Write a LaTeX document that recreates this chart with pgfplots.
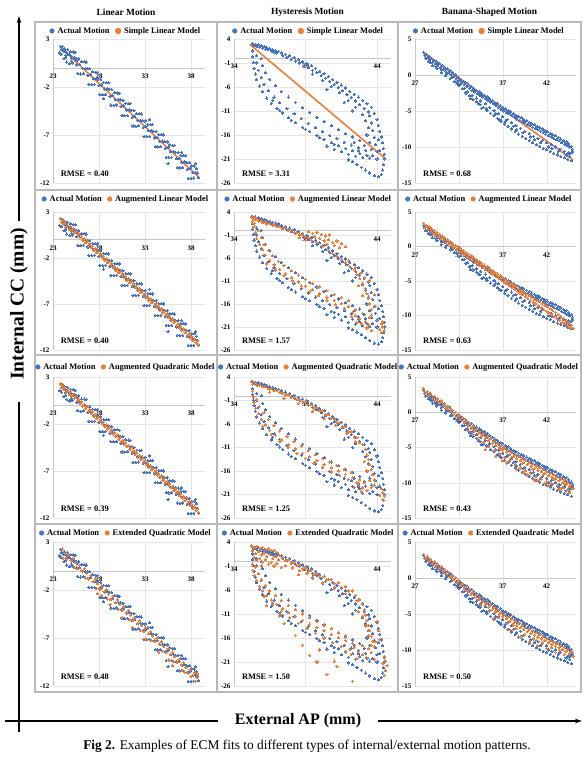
\documentclass[border=0pt]{standalone}
\usepackage{pgfplots}
\pgfplotsset{compat=1.18}
\usepackage{pgfplotstable}
\usepackage{fontspec}
\setmainfont{Liberation Serif}
\usetikzlibrary{arrows.meta}
\definecolor{bluec}{HTML}{4472C4}
\definecolor{orangec}{HTML}{ED7D31}
\newcommand{\tickfont}{\fontsize{7}{8}\selectfont\bfseries}
\newcommand{\legfont}{\fontsize{8.4}{9}\selectfont\bfseries}

% ---------- Linear motion: actual ----------
\pgfplotstableread[row sep=\\]{x y\\
23.8 2.25\\ 23.9 1.9\\ 23.7 1.55\\ 24.0 2.2\\ 24.1 1.9\\ 23.9 1.4\\ 24.3 1.95\\ 24.4 1.3\\ 24.2 0.95\\
24.6 1.9\\ 24.7 1.35\\ 24.5 0.6\\ 24.9 1.7\\ 25.0 1.0\\ 24.8 0.45\\ 25.2 1.65\\ 25.3 1.0\\ 25.1 0.5\\
25.5 1.0\\ 25.6 0.3\\ 25.4 1.6\\ 25.8 1.0\\ 25.9 0.35\\ 25.7 -0.6\\ 26.1 0.65\\ 26.2 -0.05\\ 26.0 -0.65\\
26.4 0.65\\ 26.5 -0.05\\ 26.3 -0.6\\ 26.7 -0.1\\ 26.8 -0.8\\ 26.6 0.6\\ 27.0 -0.1\\ 27.1 -0.7\\ 26.9 -1.7\\
27.3 -0.42\\ 27.4 -1.12\\ 27.2 -1.72\\ 27.6 -0.45\\ 27.7 -1.1\\ 27.5 -1.7\\ 27.9 -1.17\\ 28.0 -1.87\\ 27.8 -0.47\\
28.2 -1.19\\ 28.3 -1.79\\ 28.1 -2.79\\ 28.5 -1.51\\ 28.6 -2.21\\ 28.4 -2.81\\ 28.8 -1.54\\ 28.9 -2.19\\ 28.7 -2.79\\
29.1 -2.26\\ 29.2 -2.96\\ 29.0 -1.56\\ 29.4 -2.28\\ 29.5 -2.88\\ 29.3 -3.88\\ 29.7 -2.6\\ 29.8 -3.3\\ 29.6 -3.9\\
30.0 -2.62\\ 30.1 -3.27\\ 29.9 -3.87\\ 30.3 -3.35\\ 30.4 -4.05\\ 30.2 -2.65\\ 30.6 -3.37\\ 30.7 -3.97\\ 30.5 -4.97\\
30.9 -3.69\\ 31.0 -4.39\\ 30.8 -4.99\\ 31.2 -3.71\\ 31.3 -4.36\\ 31.1 -4.96\\ 31.5 -4.43\\ 31.6 -5.13\\ 31.4 -3.73\\
31.8 -4.46\\ 31.9 -5.06\\ 31.7 -6.06\\ 32.1 -4.78\\ 32.2 -5.48\\ 32.0 -6.08\\ 32.4 -4.8\\ 32.5 -5.45\\ 32.3 -6.05\\
32.7 -5.52\\ 32.8 -6.22\\ 32.6 -4.82\\ 33.0 -5.54\\ 33.1 -6.14\\ 32.9 -7.14\\ 33.3 -5.87\\ 33.4 -6.57\\ 33.2 -7.17\\
33.6 -5.89\\ 33.7 -6.54\\ 33.5 -7.14\\ 33.9 -6.61\\ 34.0 -7.31\\ 33.8 -5.91\\ 34.2 -6.63\\ 34.3 -7.23\\ 34.1 -8.23\\
34.5 -6.95\\ 34.6 -7.65\\ 34.4 -8.25\\ 34.8 -6.98\\ 34.9 -7.63\\ 34.7 -8.23\\ 35.1 -7.7\\ 35.2 -8.4\\ 35.0 -7.0\\
35.4 -7.72\\ 35.5 -8.32\\ 35.3 -9.32\\ 35.7 -8.04\\ 35.8 -8.74\\ 35.6 -9.34\\ 36.0 -8.06\\ 36.1 -8.71\\ 35.9 -9.31\\
36.3 -8.79\\ 36.4 -9.49\\ 36.2 -8.09\\ 36.6 -8.81\\ 36.7 -9.41\\ 36.5 -10.41\\ 36.9 -9.13\\ 37.0 -9.83\\ 36.8 -10.43\\
37.2 -9.15\\ 37.3 -9.8\\ 37.1 -10.4\\ 37.5 -9.87\\ 37.6 -10.57\\ 37.4 -9.17\\ 37.8 -9.9\\ 37.9 -10.5\\ 37.7 -11.5\\
38.1 -10.22\\ 38.2 -10.92\\ 38.0 -11.52\\ 38.4 -10.24\\ 38.5 -10.89\\ 38.3 -11.49\\ 38.7 -10.96\\ 38.8 -11.46\\ 38.6 -10.5\\
38.5 -10.0\\ 37.0 -8.8\\ 33.5 -5.4\\ 35.5 -10.0\\ 28.5 -3.2\\ 24.2 1.7\\ 24.5 1.6\\ 24.8 1.35\\ 25.0 1.2\\ 25.3 1.1\\
25.6 0.8\\ 24.4 1.05\\ 25.0 0.7\\
}\actA

% ---------- Linear motion: augmented models (narrow band) ----------
\pgfplotstableread[row sep=\\]{x y\\
23.8 2.3\\ 23.95 1.86\\ 24.0 2.12\\ 24.15 1.68\\ 24.3 1.84\\ 24.45 1.4\\ 24.6 1.57\\ 24.75 1.13\\
24.9 1.45\\ 25.05 1.01\\ 25.2 1.18\\ 25.35 0.74\\ 25.5 0.91\\ 25.65 0.47\\ 25.8 0.64\\ 25.95 0.20\\
26.1 0.36\\ 26.25 -0.08\\ 26.4 0.09\\ 26.55 -0.35\\ 26.7 -0.18\\ 26.85 -0.62\\ 27.0 -0.45\\ 27.15 -0.89\\
27.3 -0.72\\ 27.45 -1.16\\ 27.6 -1.00\\ 27.75 -1.44\\ 27.9 -1.27\\ 28.05 -1.71\\ 28.2 -1.54\\ 28.35 -1.98\\
28.5 -1.81\\ 28.65 -2.25\\ 28.8 -2.09\\ 28.95 -2.53\\ 29.1 -2.36\\ 29.25 -2.80\\ 29.4 -2.63\\ 29.55 -3.07\\
29.7 -2.90\\ 29.85 -3.34\\ 30.0 -3.17\\ 30.15 -3.61\\ 30.3 -3.45\\ 30.45 -3.89\\ 30.6 -3.72\\ 30.75 -4.16\\
30.9 -3.99\\ 31.05 -4.43\\ 31.2 -4.26\\ 31.35 -4.70\\ 31.5 -4.53\\ 31.65 -4.97\\ 31.8 -4.81\\ 31.95 -5.25\\
32.1 -5.08\\ 32.25 -5.52\\ 32.4 -5.35\\ 32.55 -5.79\\ 32.7 -5.62\\ 32.85 -6.06\\ 33.0 -5.89\\ 33.15 -6.33\\
33.3 -6.17\\ 33.45 -6.61\\ 33.6 -6.44\\ 33.75 -6.88\\ 33.9 -6.71\\ 34.05 -7.15\\ 34.2 -6.98\\ 34.35 -7.42\\
34.5 -7.25\\ 34.65 -7.69\\ 34.8 -7.53\\ 34.95 -7.97\\ 35.1 -7.80\\ 35.25 -8.24\\ 35.4 -8.07\\ 35.55 -8.51\\
35.7 -8.34\\ 35.85 -8.78\\ 36.0 -8.61\\ 36.15 -9.05\\ 36.3 -8.89\\ 36.45 -9.33\\ 36.6 -9.16\\ 36.75 -9.60\\
36.9 -9.43\\ 37.05 -9.87\\ 37.2 -9.70\\ 37.35 -10.14\\ 37.5 -9.97\\ 37.65 -10.41\\ 37.8 -10.25\\ 37.95 -10.69\\
38.1 -10.52\\ 38.25 -10.96\\ 38.4 -10.79\\ 38.55 -11.23\\ 38.7 -11.06\\ 38.8 -11.40\\
}\modAaug

% ---------- Linear motion: extended quadratic ----------
\pgfplotstableread[row sep=\\]{x y\\
24.0 2.27\\ 24.25 1.82\\ 24.1 1.32\\ 24.7 1.67\\ 24.95 1.07\\ 24.5 1.32\\ 25.2 1.33\\ 25.45 0.83\\ 25.3 0.33\\
25.9 0.59\\ 26.15 -0.01\\ 25.7 0.24\\ 26.4 0.24\\ 26.65 -0.26\\ 26.5 -0.76\\ 27.1 -0.50\\ 27.35 -1.10\\ 26.9 -0.85\\
27.6 -0.85\\ 27.85 -1.35\\ 27.7 -1.85\\ 28.3 -1.59\\ 28.55 -2.19\\ 28.1 -1.94\\ 28.8 -1.94\\ 29.05 -2.44\\ 28.9 -2.94\\
29.5 -2.68\\ 29.75 -3.28\\ 29.3 -3.03\\ 30.0 -3.02\\ 30.25 -3.52\\ 30.1 -4.02\\ 30.7 -3.77\\ 30.95 -4.37\\ 30.5 -4.12\\
31.2 -4.11\\ 31.45 -4.61\\ 31.3 -5.11\\ 31.9 -4.86\\ 32.15 -5.46\\ 31.7 -5.21\\ 32.4 -5.20\\ 32.65 -5.70\\ 32.5 -6.20\\
33.1 -5.94\\ 33.35 -6.54\\ 32.9 -6.29\\ 33.6 -6.29\\ 33.85 -6.79\\ 33.7 -7.29\\ 34.3 -7.03\\ 34.55 -7.63\\ 34.1 -7.38\\
34.8 -7.38\\ 35.05 -7.88\\ 34.9 -8.38\\ 35.5 -8.12\\ 35.75 -8.72\\ 35.3 -8.47\\ 36.0 -8.46\\ 36.25 -8.96\\ 36.1 -9.46\\
36.7 -9.21\\ 36.95 -9.81\\ 36.5 -9.56\\ 37.2 -9.55\\ 37.45 -10.05\\ 37.3 -10.55\\ 37.9 -10.30\\ 38.15 -10.90\\ 37.7 -10.65\\
38.4 -10.64\\ 38.65 -11.14\\ 38.5 -11.5\\ 27.8 -2.4\\ 28.3 -2.6\\ 30.5 -4.9\\ 33.0 -7.1\\ 34.5 -8.5\\ 36.0 -9.9\\
38.0 -11.0\\ 38.7 -10.7\\ 29.2 -3.5\\ 31.6 -5.9\\ 35.6 -9.3\\ 37.0 -10.4\\
}\modAext

% ---------- Hysteresis motion: actual ----------
\pgfplotstableread[row sep=\\]{x y\\
35.3 3.0\\ 35.4 2.7\\ 35.5 2.9\\ 35.6 2.5\\ 35.7 2.8\\ 35.8 2.3\\ 35.9 2.6\\ 36.0 2.1\\ 36.1 2.4\\ 36.2 1.9\\
36.3 2.2\\ 36.4 1.8\\ 36.5 2.0\\ 36.6 1.5\\ 36.7 1.8\\ 36.8 1.3\\ 36.9 1.6\\ 37.0 1.1\\ 37.1 1.4\\
37.3 1.1\\ 37.4 0.6\\ 37.6 0.8\\ 37.7 0.2\\ 37.9 0.5\\ 38.0 -0.2\\ 38.2 0.1\\ 38.3 -0.6\\ 38.5 -0.3\\ 38.6 -1.0\\
38.8 -0.7\\ 38.9 -1.5\\ 39.1 -1.1\\ 39.2 -2.0\\ 39.4 -1.6\\ 39.5 -2.5\\ 39.7 -2.1\\ 39.8 -3.0\\ 40.0 -2.7\\ 40.1 -3.6\\
40.3 -3.2\\ 40.4 -4.2\\ 40.6 -3.8\\ 40.7 -4.8\\ 40.9 -4.4\\ 41.0 -5.5\\ 41.2 -5.0\\ 41.3 -6.1\\ 41.5 -5.6\\ 41.6 -6.8\\
41.8 -6.2\\ 41.9 -7.5\\ 42.1 -6.9\\ 42.2 -8.2\\ 42.4 -7.5\\ 42.5 -8.9\\ 42.7 -8.1\\ 42.8 -9.7\\ 43.0 -8.8\\ 43.1 -10.4\\
43.3 -9.5\\ 43.4 -11.2\\
39.5 -3.3\\ 40.2 -4.6\\ 40.8 -5.9\\ 41.4 -7.2\\ 42.0 -8.8\\ 42.5 -10.2\\ 43.0 -11.8\\ 43.2 -13.0\\ 41.7 -9.2\\ 42.3 -11.0\\ 40.5 -6.5\\
43.6 -10.2\\ 43.8 -11.5\\ 44.0 -12.8\\ 44.1 -14.0\\ 44.2 -15.2\\ 44.3 -16.4\\ 44.4 -17.6\\ 44.45 -18.8\\ 44.5 -20.0\\ 44.5 -21.0\\
44.45 -22.2\\ 44.4 -23.3\\ 44.3 -24.2\\ 44.1 -24.7\\ 43.8 -24.5\\ 43.5 -23.9\\ 43.2 -23.3\\ 42.9 -22.7\\ 42.6 -22.1\\ 42.3 -21.6\\ 42.0 -21.2\\
43.5 -12.0\\ 43.6 -13.5\\ 43.7 -15.0\\ 43.8 -16.5\\ 43.9 -18.0\\ 44.0 -19.5\\ 43.7 -20.3\\ 43.4 -14.5\\ 43.3 -16.0\\ 43.5 -17.5\\
43.6 -19.0\\ 44.1 -17.0\\ 44.2 -19.2\\ 44.0 -21.0\\
35.3 1.5\\ 35.3 0.3\\ 35.35 -0.9\\ 35.4 -2.1\\ 35.5 -3.3\\ 35.6 -4.5\\ 35.8 -5.8\\ 36.0 -7.0\\ 36.3 -8.3\\ 36.6 -9.4\\
37.0 -10.4\\ 37.4 -11.4\\ 37.8 -12.4\\ 38.3 -13.4\\ 38.8 -14.4\\ 39.3 -15.3\\ 39.8 -16.1\\ 40.3 -16.9\\ 40.8 -17.6\\ 41.3 -18.2\\
41.8 -18.8\\ 42.3 -19.3\\ 42.8 -19.8\\ 43.3 -20.2\\
35.6 0.5\\ 35.6 -1.0\\ 35.7 -2.5\\ 35.9 -4.0\\ 36.1 -5.4\\ 36.4 -6.8\\ 36.8 -8.1\\ 37.2 -9.3\\ 37.7 -10.5\\ 38.2 -11.6\\
38.7 -12.6\\ 39.2 -13.6\\ 39.7 -14.5\\ 40.2 -15.3\\ 40.7 -16.1\\ 41.2 -16.8\\ 41.7 -17.5\\ 42.2 -18.1\\ 42.7 -18.7\\ 43.2 -19.2\\
35.9 0.0\\ 36.0 -1.6\\ 36.2 -3.0\\ 36.5 -4.4\\ 36.9 -5.7\\ 37.3 -6.9\\ 37.8 -8.1\\ 38.3 -9.2\\ 38.8 -10.3\\ 39.3 -11.3\\
39.8 -12.3\\ 40.3 -13.2\\ 40.8 -14.1\\ 41.3 -14.9\\ 41.8 -15.7\\ 42.3 -16.4\\ 42.8 -17.1\\
41.5 -19.5\\ 42.0 -20.0\\ 42.5 -20.4\\ 43.0 -20.7\\ 43.5 -20.8\\ 41.0 -19.0\\ 40.5 -18.3\\ 42.7 -19.3\\ 43.1 -18.2\\ 42.4 -17.5\\
38.0 -12.9\\ 39.0 -14.8\\ 40.0 -16.6\\ 41.0 -17.9\\ 37.2 -10.9\\ 36.7 -8.8\\
}\actB

% ---------- Hysteresis: augmented linear ----------
\pgfplotstableread[row sep=\\]{x y\\
35.2 3.0\\ 35.3 2.6\\ 35.4 2.8\\ 35.5 2.3\\ 35.6 2.6\\ 35.3 2.0\\ 35.4 1.5\\ 35.7 2.0\\ 35.9 2.2\\ 36.0 1.7\\
36.2 1.9\\ 36.3 1.4\\ 36.5 1.5\\ 36.7 1.1\\ 36.8 1.3\\ 37.0 0.8\\ 37.2 0.9\\ 37.4 0.4\\ 37.6 0.5\\ 37.8 0.0\\
38.0 0.0\\ 38.2 -0.5\\ 38.4 -0.5\\ 38.6 -1.0\\ 38.8 -1.0\\ 39.0 -1.5\\ 39.2 -1.6\\ 39.4 -2.1\\ 39.0 -2.1\\ 38.6 -1.6\\
39.2 -0.3\\ 39.5 -0.6\\ 39.8 -0.4\\ 40.1 -0.9\\ 40.4 -1.2\\ 40.7 -1.0\\ 39.6 -1.4\\ 40.0 -1.8\\ 40.3 -2.3\\ 40.6 -2.0\\
40.9 -2.6\\ 41.2 -2.3\\ 41.5 -2.9\\ 41.0 -3.3\\ 40.5 -3.0\\ 41.4 -3.8\\ 41.8 -3.5\\ 39.8 -2.6\\ 40.2 -3.4\\
40.6 -4.3\\ 40.9 -5.0\\ 41.2 -5.6\\ 41.5 -6.3\\ 41.8 -7.0\\ 42.1 -7.8\\ 42.4 -8.6\\ 42.6 -9.5\\ 42.8 -10.5\\ 43.0 -11.5\\
43.2 -12.6\\ 43.3 -13.7\\ 43.4 -14.8\\ 43.5 -16.0\\ 43.6 -17.2\\ 43.6 -18.4\\ 42.5 -8.0\\ 42.0 -6.5\\ 42.9 -9.2\\ 43.1 -10.3\\
43.5 -11.0\\ 43.8 -14.0\\ 43.9 -16.5\\ 42.7 -12.0\\ 43.0 -14.2\\
35.4 0.8\\ 35.5 -0.5\\ 35.6 -1.8\\ 35.8 -3.0\\ 36.0 -4.2\\ 36.2 -5.4\\ 36.5 -6.5\\ 36.8 -7.5\\ 37.2 -8.5\\ 37.6 -9.4\\
38.0 -10.3\\ 38.5 -11.2\\ 39.0 -12.1\\ 39.5 -12.9\\ 40.0 -13.7\\ 40.5 -14.5\\ 41.0 -15.2\\ 41.5 -15.9\\ 42.0 -16.6\\ 42.5 -17.3\\
35.7 0.0\\ 35.9 -1.5\\ 36.1 -3.0\\ 36.4 -4.3\\ 36.7 -5.5\\ 37.1 -6.7\\ 37.5 -7.7\\ 38.0 -8.8\\ 38.5 -9.7\\ 39.0 -10.6\\
39.5 -11.5\\ 40.0 -12.3\\ 40.5 -13.1\\ 41.0 -13.9\\ 41.5 -14.6\\ 42.0 -15.3\\
36.3 -7.3\\ 36.9 -8.6\\ 37.5 -9.8\\ 38.1 -11.0\\ 38.7 -12.1\\ 39.3 -13.2\\ 39.9 -14.2\\ 40.5 -15.2\\ 41.1 -16.1\\ 41.7 -17.0\\ 42.3 -17.8\\
42.5 -18.5\\ 42.8 -19.2\\ 43.0 -18.0\\ 43.2 -19.8\\ 43.4 -20.5\\ 42.9 -20.3\\ 43.5 -19.0\\ 42.2 -18.8\\ 42.6 -20.0\\ 43.3 -21.2\\ 43.6 -21.8\\
44.3 -20.3\\ 44.4 -21.0\\ 44.5 -21.7\\ 44.3 -22.2\\ 44.2 -21.5\\ 44.4 -19.8\\
}\modBlin

% ---------- Hysteresis: augmented quadratic ----------
\pgfplotstableread[row sep=\\]{x y\\
35.2 3.0\\ 35.3 2.5\\ 35.5 2.7\\ 35.6 2.2\\ 35.8 2.4\\ 36.0 1.9\\ 36.2 2.0\\ 36.4 1.5\\ 36.6 1.6\\ 36.8 1.1\\
37.0 1.2\\ 37.2 0.7\\ 37.4 0.7\\ 37.6 0.2\\ 37.8 0.2\\ 38.0 -0.3\\ 38.2 -0.3\\ 38.4 -0.8\\ 38.6 -0.8\\ 38.8 -1.4\\
39.0 -1.3\\ 39.2 -2.0\\ 39.4 -1.9\\ 39.6 -2.6\\ 39.8 -2.5\\ 40.0 -3.2\\ 40.2 -3.2\\ 40.4 -4.0\\ 40.6 -4.0\\ 40.8 -4.8\\
41.0 -4.8\\ 41.2 -5.7\\ 41.4 -5.7\\ 41.6 -6.6\\ 41.8 -6.6\\ 42.0 -7.6\\ 42.2 -7.7\\ 42.4 -8.7\\ 42.6 -8.9\\ 42.8 -10.0\\
43.0 -10.3\\ 43.2 -11.4\\ 43.3 -12.6\\ 39.5 -3.4\\ 40.3 -4.8\\ 41.1 -6.3\\ 41.9 -8.0\\ 42.5 -9.8\\ 38.5 -1.6\\ 37.5 -0.5\\ 36.5 0.8\\
43.4 -13.5\\ 43.5 -14.6\\ 43.6 -15.7\\ 43.7 -16.8\\ 43.8 -17.9\\ 43.8 -19.0\\ 43.1 -14.0\\ 43.3 -16.0\\ 43.5 -18.0\\ 43.6 -19.5\\
35.3 1.0\\ 35.35 -0.2\\ 35.4 -1.4\\ 35.5 -2.6\\ 35.7 -3.8\\ 35.9 -5.0\\ 36.2 -6.2\\ 36.5 -7.3\\ 36.9 -8.4\\ 37.3 -9.4\\
37.8 -10.4\\ 38.3 -11.3\\ 38.8 -12.2\\ 39.3 -13.0\\ 39.8 -13.8\\ 40.3 -14.6\\ 40.8 -15.3\\ 41.3 -16.0\\ 41.8 -16.7\\ 42.3 -17.3\\ 42.8 -17.9\\
35.6 -0.8\\ 35.8 -2.2\\ 36.1 -3.6\\ 36.4 -5.0\\ 36.8 -6.3\\ 37.2 -7.5\\ 37.7 -8.6\\ 38.2 -9.7\\ 38.7 -10.7\\ 39.2 -11.6\\
39.7 -12.5\\ 40.2 -13.3\\ 40.7 -14.1\\ 41.2 -14.9\\ 41.7 -15.6\\ 42.2 -16.3\\
36.0 -6.5\\ 36.6 -8.2\\ 37.2 -9.7\\ 37.8 -11.0\\ 38.4 -12.2\\ 39.0 -13.3\\ 39.6 -14.3\\ 40.2 -15.3\\ 40.8 -16.2\\ 41.4 -17.0\\ 42.0 -17.8\\ 42.6 -18.5\\
42.7 -19.0\\ 43.0 -19.6\\ 43.3 -20.1\\ 42.4 -19.5\\ 43.1 -18.5\\ 42.9 -20.4\\
44.3 -19.8\\ 44.4 -20.6\\ 44.5 -21.3\\ 44.4 -22.0\\ 44.2 -21.2\\
}\modBquad

% ---------- Hysteresis: extended quadratic ----------
\pgfplotstableread[row sep=\\]{x y\\
35.2 3.2\\ 35.4 2.9\\ 35.6 3.1\\ 35.8 2.7\\ 36.0 2.9\\ 36.2 2.5\\ 36.4 2.6\\ 36.6 2.2\\ 36.8 2.3\\ 37.0 1.8\\
35.3 2.2\\ 35.5 1.6\\ 35.7 2.0\\ 35.9 1.3\\ 36.1 1.7\\ 36.3 1.0\\ 36.5 1.4\\ 36.7 0.6\\ 36.9 1.0\\ 37.1 0.3\\
35.4 0.8\\ 35.6 0.2\\ 35.8 0.6\\ 36.0 -0.2\\ 36.2 0.3\\ 36.4 -0.6\\ 36.6 -0.2\\ 36.8 -1.0\\ 37.0 -0.5\\ 37.2 1.2\\
35.3 -0.6\\ 35.5 -1.2\\ 35.9 -1.0\\ 37.3 -1.3\\
37.4 0.7\\ 37.6 0.1\\ 37.8 0.3\\ 38.0 -0.4\\ 38.2 -0.2\\ 38.4 -0.9\\ 38.6 -0.7\\ 38.8 -1.5\\ 39.0 -1.3\\ 39.2 -2.1\\
37.6 -0.9\\ 38.1 -1.4\\ 38.6 -2.0\\ 39.1 -2.6\\ 39.4 -1.9\\ 39.6 -2.7\\ 39.8 -2.5\\ 40.0 -3.3\\ 40.3 -3.1\\ 40.5 -3.9\\
40.8 -3.8\\ 41.0 -4.6\\ 41.3 -4.5\\ 41.5 -5.4\\ 41.8 -5.3\\ 42.0 -6.2\\ 42.3 -6.2\\ 42.5 -7.1\\ 40.2 -4.4\\ 41.0 -5.6\\
41.8 -6.8\\ 42.6 -8.2\\ 39.5 -3.6\\ 38.5 -2.8\\
42.8 -8.0\\ 43.0 -9.0\\ 43.1 -10.1\\ 43.2 -11.2\\ 43.3 -12.3\\ 43.4 -13.4\\ 43.5 -14.5\\ 43.6 -15.6\\ 43.7 -16.7\\ 43.8 -17.8\\
43.0 -11.5\\ 43.2 -13.5\\ 43.4 -15.5\\ 43.6 -17.5\\ 44.0 -12.5\\ 44.1 -14.5\\ 44.2 -16.3\\ 42.7 -10.5\\
35.3 -1.9\\ 35.4 -3.0\\ 35.6 -4.1\\ 35.8 -5.2\\ 36.0 -6.2\\ 36.3 -7.2\\ 36.6 -8.1\\ 37.0 -9.0\\ 37.4 -9.9\\ 37.8 -10.7\\
38.3 -11.5\\ 38.8 -12.3\\ 39.3 -13.1\\ 39.8 -13.8\\ 40.3 -14.5\\ 40.8 -15.2\\ 41.3 -15.9\\ 41.8 -16.5\\ 42.3 -17.1\\
35.7 -2.6\\ 35.9 -3.9\\ 36.2 -5.1\\ 36.5 -6.2\\ 36.9 -7.2\\ 37.3 -8.2\\ 37.8 -9.2\\ 38.3 -10.1\\ 38.8 -11.0\\ 39.3 -11.8\\
39.8 -12.6\\ 40.3 -13.4\\ 40.8 -14.1\\ 41.3 -14.8\\ 41.8 -15.5\\
36.1 -7.4\\ 36.7 -9.0\\ 37.3 -10.4\\ 37.9 -11.7\\ 38.5 -12.9\\ 39.1 -14.0\\ 39.7 -15.0\\ 40.3 -16.0\\ 40.9 -16.9\\ 41.5 -17.7\\ 42.1 -18.4\\
42.4 -18.0\\ 42.7 -18.8\\ 43.0 -19.5\\ 43.3 -20.1\\ 42.6 -20.2\\ 43.0 -17.6\\ 43.6 -19.0\\ 43.8 -20.5\\ 42.2 -19.4\\ 43.4 -18.2\\ 41.8 -19.0\\ 43.9 -16.8\\
44.5 -19.8\\ 44.6 -20.8\\ 44.7 -21.8\\ 44.6 -22.8\\ 44.5 -23.8\\ 44.4 -21.3\\
36.3 -9.3\\ 37.2 -11.4\\ 38.3 -15.4\\ 38.8 -17.5\\ 40.5 -23.6\\ 42.3 -25.0\\ 39.3 -19.6\\ 37.5 -13.0\\ 39.8 -21.0\\ 41.2 -22.0\\ 40.0 -18.5\\ 41.0 -20.8\\
}\modBext

% ---------- Banana-shaped motion: actual ----------
\pgfplotstableread[row sep=\\]{x y\\
28.0 3.1\\ 28.1 2.7\\ 28.3 2.85\\ 28.4 2.4\\ 28.2 2.3\\ 28.6 2.6\\ 28.7 2.1\\ 28.9 2.3\\ 29.0 1.8\\ 28.8 1.7\\
29.2 2.05\\ 29.3 1.55\\ 29.5 1.8\\ 29.6 1.3\\ 29.4 1.2\\ 29.8 1.55\\ 29.9 1.05\\ 30.1 1.3\\ 30.2 0.8\\ 30.0 0.7\\
30.4 1.05\\ 30.5 0.55\\ 30.7 0.85\\ 30.8 0.3\\ 30.6 0.2\\ 31.0 0.6\\ 31.1 0.05\\ 31.3 0.3\\ 31.4 -0.25\\ 31.2 -0.4\\
31.6 0.0\\ 31.7 -0.5\\ 31.9 -0.3\\ 32.0 -0.8\\ 31.8 -1.0\\ 32.2 -0.6\\ 32.3 -1.1\\ 32.5 -0.85\\ 32.6 -1.35\\
32.8 -1.1\\ 32.9 -1.6\\ 33.1 -1.4\\ 33.2 -1.85\\ 33.4 -1.6\\ 33.5 -2.1\\ 33.7 -1.85\\ 33.8 -2.35\\ 34.0 -2.1\\ 34.1 -2.6\\
34.3 -2.35\\ 34.4 -2.8\\ 34.6 -2.6\\ 34.7 -3.05\\ 34.9 -2.8\\ 35.0 -3.3\\ 35.2 -3.05\\ 35.3 -3.5\\ 35.5 -3.3\\ 35.6 -3.75\\
35.8 -3.55\\ 35.9 -4.0\\ 36.1 -3.8\\ 36.2 -4.25\\ 36.4 -4.0\\ 36.5 -4.5\\ 36.7 -4.25\\ 36.8 -4.75\\ 37.0 -4.5\\ 37.1 -5.0\\
37.3 -4.7\\ 37.4 -5.2\\ 37.6 -4.9\\ 37.7 -5.4\\ 37.9 -5.1\\ 38.0 -5.6\\ 38.2 -5.4\\ 38.3 -5.85\\ 38.5 -5.6\\ 38.6 -6.1\\
38.8 -5.8\\ 38.9 -6.3\\ 39.1 -5.95\\ 39.2 -6.45\\ 39.4 -6.15\\ 39.5 -6.65\\ 39.7 -6.35\\ 39.8 -6.85\\ 40.0 -6.55\\ 40.1 -7.05\\
40.3 -6.75\\ 40.4 -7.25\\ 40.6 -6.9\\ 40.7 -7.4\\ 40.9 -7.1\\ 41.0 -7.6\\ 41.2 -7.3\\ 41.3 -7.8\\ 41.5 -7.5\\ 41.6 -8.0\\
41.8 -7.7\\ 41.9 -8.2\\ 42.1 -7.9\\ 42.2 -8.4\\ 42.4 -8.1\\ 42.5 -8.6\\ 42.7 -8.3\\ 42.8 -8.8\\ 43.0 -8.45\\ 43.1 -8.95\\
43.3 -8.65\\ 43.4 -9.15\\ 43.6 -8.9\\ 43.7 -9.4\\ 43.9 -9.1\\ 44.0 -9.6\\ 44.2 -9.3\\ 44.3 -9.8\\ 44.5 -9.55\\ 44.6 -10.0\\
44.8 -9.9\\ 44.9 -10.3\\ 44.95 -10.6\\ 44.8 -10.8\\ 44.6 -10.9\\
32.0 -1.4\\ 32.4 -1.9\\ 32.8 -2.5\\ 33.2 -2.9\\ 33.6 -3.4\\ 34.0 -3.7\\ 34.4 -4.1\\ 34.8 -4.5\\ 35.2 -4.9\\ 35.6 -5.3\\
36.0 -5.6\\ 36.4 -6.0\\ 36.8 -6.4\\ 37.2 -6.8\\ 37.6 -7.1\\ 38.0 -7.5\\ 38.4 -7.8\\ 38.8 -8.2\\ 39.2 -8.5\\ 39.6 -8.8\\
40.0 -9.1\\ 40.4 -9.4\\ 40.8 -9.7\\ 41.2 -9.9\\ 41.6 -10.2\\ 42.0 -10.4\\ 42.4 -10.6\\ 42.8 -10.9\\ 43.2 -11.1\\ 43.6 -11.3\\
44.0 -11.5\\ 44.4 -11.7\\ 44.8 -11.9\\
32.6 -1.9\\ 33.0 -2.3\\ 33.5 -2.8\\ 34.0 -3.2\\ 34.5 -3.6\\ 35.0 -4.0\\ 35.5 -4.5\\ 36.0 -4.9\\ 36.5 -5.4\\ 37.0 -5.8\\
37.5 -6.2\\ 38.0 -6.6\\ 38.5 -7.0\\ 39.0 -7.4\\ 39.5 -7.8\\ 40.0 -8.1\\ 40.5 -8.5\\ 41.0 -8.8\\ 41.5 -9.1\\ 42.0 -9.4\\
42.5 -9.7\\ 43.0 -10.0\\ 43.5 -10.3\\ 44.0 -10.6\\ 44.5 -10.8\\
33.3 -3.3\\ 34.2 -4.0\\ 35.1 -4.7\\ 36.2 -5.3\\ 37.3 -6.4\\ 38.2 -7.1\\ 39.3 -8.0\\ 40.2 -8.6\\ 41.3 -9.4\\ 42.2 -10.0\\
43.3 -10.6\\ 44.2 -11.1\\ 34.6 -4.6\\ 36.6 -6.2\\ 38.6 -7.6\\ 40.6 -9.0\\ 42.6 -10.2\\ 44.6 -11.3\\
28.5 1.9\\ 29.0 1.3\\ 29.5 0.9\\ 30.0 0.3\\ 30.5 -0.1\\ 31.0 -0.5\\ 31.5 -0.9\\
}\actC

% ---------- Banana: augmented linear ----------
\pgfplotstableread[row sep=\\]{x y\\
28.0 3.36\\ 28.15 2.73\\ 28.3 3.10\\ 28.45 2.47\\ 28.6 2.84\\ 28.75 2.21\\ 28.9 2.57\\ 29.05 1.94\\ 29.2 2.31\\ 29.35 1.68\\
29.5 2.05\\ 29.65 1.42\\ 29.8 1.78\\ 29.95 1.15\\ 30.1 1.52\\ 30.25 0.89\\ 30.4 1.26\\ 30.55 0.63\\ 30.7 0.99\\ 30.85 0.36\\
31.0 0.73\\ 31.15 0.10\\ 31.3 0.47\\ 31.45 -0.16\\ 31.6 0.20\\ 31.75 -0.43\\ 31.9 -0.06\\ 32.05 -0.69\\ 32.2 -0.32\\ 32.35 -0.95\\
32.5 -0.58\\ 32.65 -1.21\\ 32.8 -0.85\\ 32.95 -1.48\\ 33.1 -1.11\\ 33.25 -1.74\\ 33.4 -1.37\\ 33.55 -2.00\\ 33.7 -1.64\\ 33.85 -2.27\\
34.0 -1.90\\ 34.15 -2.53\\ 34.3 -2.16\\ 34.45 -2.79\\ 34.6 -2.43\\ 34.75 -3.06\\ 34.9 -2.69\\ 35.05 -3.32\\ 35.2 -2.95\\ 35.35 -3.58\\
35.5 -3.22\\ 35.65 -3.85\\ 35.8 -3.48\\ 35.95 -4.11\\ 36.1 -3.74\\ 36.25 -4.37\\ 36.4 -4.00\\ 36.55 -4.63\\ 36.7 -4.27\\ 36.85 -4.90\\
37.0 -4.53\\ 37.15 -5.16\\ 37.3 -4.79\\ 37.45 -5.42\\ 37.6 -5.06\\ 37.75 -5.69\\ 37.9 -5.32\\ 38.05 -5.95\\ 38.2 -5.58\\ 38.35 -6.21\\
38.5 -5.85\\ 38.65 -6.48\\ 38.8 -6.11\\ 38.95 -6.74\\ 39.1 -6.37\\ 39.25 -7.00\\ 39.4 -6.64\\ 39.55 -7.27\\ 39.7 -6.90\\ 39.85 -7.53\\
40.0 -7.16\\ 40.15 -7.79\\ 40.3 -7.42\\ 40.45 -8.05\\ 40.6 -7.64\\ 40.75 -8.32\\ 40.9 -7.80\\ 41.05 -8.58\\ 41.2 -8.01\\ 41.35 -8.84\\
41.5 -8.23\\ 41.65 -9.11\\ 41.8 -8.49\\ 41.95 -9.37\\ 42.1 -8.75\\ 42.25 -9.63\\ 42.4 -9.02\\ 42.55 -9.90\\ 42.7 -9.28\\ 42.85 -10.16\\
43.0 -9.54\\ 43.15 -10.42\\ 43.3 -9.81\\ 43.45 -10.69\\ 43.6 -10.12\\ 43.75 -10.95\\ 43.9 -10.43\\ 44.05 -11.21\\ 44.2 -10.74\\ 44.35 -11.47\\
44.5 -11.06\\ 44.65 -11.70\\ 44.8 -11.42\\ 45.0 -11.85\\
}\modClin

% ---------- Banana: quadratic models, core band ----------
\pgfplotstableread[row sep=\\]{x y\\
28.0 3.30\\ 28.2 2.68\\ 28.4 2.96\\ 28.6 2.34\\ 28.8 2.62\\ 29.0 2.00\\ 29.2 2.28\\ 29.4 1.66\\ 29.6 1.94\\ 29.8 1.32\\
30.0 1.60\\ 30.2 0.95\\ 30.4 1.20\\ 30.6 0.55\\ 30.8 0.80\\ 31.0 0.15\\ 31.2 0.40\\ 31.4 -0.25\\ 31.6 0.00\\ 31.8 -0.65\\
32.0 -0.40\\ 32.2 -1.05\\ 32.4 -0.80\\ 32.6 -1.45\\ 32.8 -1.20\\ 33.0 -1.85\\ 33.2 -1.60\\ 33.4 -2.25\\ 33.6 -2.00\\ 33.8 -2.65\\
34.0 -2.40\\ 34.2 -3.02\\ 34.4 -2.74\\ 34.6 -3.36\\ 34.8 -3.08\\ 35.0 -3.70\\ 35.2 -3.42\\ 35.4 -4.04\\ 35.6 -3.76\\ 35.8 -4.38\\
36.0 -4.10\\ 36.2 -4.71\\ 36.4 -4.42\\ 36.6 -5.03\\ 36.8 -4.74\\ 37.0 -5.35\\ 37.2 -5.06\\ 37.4 -5.67\\ 37.6 -5.38\\ 37.8 -5.99\\
38.0 -5.70\\ 38.2 -6.29\\ 38.4 -5.98\\ 38.6 -6.57\\ 38.8 -6.26\\ 39.0 -6.85\\ 39.2 -6.54\\ 39.4 -7.13\\ 39.6 -6.82\\ 39.8 -7.41\\
40.0 -7.10\\ 40.2 -7.68\\ 40.4 -7.36\\ 40.6 -7.94\\ 40.8 -7.62\\ 41.0 -8.20\\ 41.2 -7.88\\ 41.4 -8.46\\ 41.6 -8.14\\ 41.8 -8.72\\
42.0 -8.40\\ 42.2 -8.97\\ 42.4 -8.64\\ 42.6 -9.21\\ 42.8 -8.88\\ 43.0 -9.45\\ 43.2 -9.12\\ 43.4 -9.69\\ 43.6 -9.36\\ 43.8 -9.93\\
44.0 -9.60\\ 44.2 -10.21\\ 44.4 -9.92\\ 44.6 -10.53\\ 44.8 -10.24\\ 45.0 -10.85\\
}\modCcore

\pgfplotstableread[row sep=\\]{x y\\
33.0 -2.6\\ 33.6 -3.2\\ 34.2 -3.8\\ 34.8 -4.3\\ 35.4 -4.9\\ 36.0 -5.4\\ 36.6 -5.9\\ 37.2 -6.4\\ 37.8 -6.9\\ 38.4 -7.4\\
39.0 -7.9\\ 39.6 -8.3\\ 40.2 -8.7\\ 40.8 -9.1\\ 41.4 -9.5\\ 42.0 -9.8\\ 42.6 -10.1\\ 43.2 -10.4\\ 43.8 -10.7\\ 44.4 -11.0\\
35.0 -5.3\\ 36.2 -6.3\\ 37.4 -7.2\\ 38.6 -8.1\\ 39.8 -8.9\\ 41.0 -9.7\\ 42.2 -10.4\\ 43.4 -11.0\\ 44.6 -11.4\\
36.8 -5.3\\ 38.0 -6.4\\ 39.2 -7.3\\ 40.4 -8.1\\ 41.6 -8.8\\ 42.8 -9.5\\ 44.0 -10.1\\ 37.0 -6.9\\ 39.4 -8.6\\ 41.8 -10.1\\
43.6 -10.9\\ 40.6 -9.6\\
}\modClowQ

\pgfplotstableread[row sep=\\]{x y\\
34.5 -3.8\\ 35.5 -4.6\\ 36.5 -5.5\\ 37.5 -6.3\\ 38.5 -7.0\\ 39.5 -7.8\\ 40.5 -8.4\\ 41.5 -9.0\\ 42.5 -9.6\\ 43.5 -10.1\\
36.0 -5.7\\ 37.8 -7.2\\ 39.0 -8.2\\ 40.0 -8.9\\ 41.0 -9.4\\ 42.0 -9.8\\ 43.0 -10.3\\ 44.0 -10.6\\ 38.2 -6.6\\ 40.8 -8.7\\
}\modClowE

\pgfplotsset{
  base/.style={
    scale only axis,
    axis x line=middle, axis y line=left,
    axis line style={draw=gray!45, line width=0.5pt, -},
    every inner x axis line/.append style={-},
    every outer y axis line/.append style={-},
    grid=major, grid style={draw=gray!20, line width=0.4pt},
    major tick length=0pt, tick style={draw=none},
    ticklabel style={font=\tickfont},
    xticklabel style={yshift=-2.5pt},
    /pgf/number format/assume math mode=true,
    hide obscured x ticks=false, hide obscured y ticks=false,
    legend columns=2,
    legend cell align=left,
    legend style={draw=none, fill=none, font=\legfont, inner sep=0pt,
      at={(axis description cs:0.5,1)}, anchor=center,
      /tikz/every even column/.append style={column sep=3.5pt},
      /tikz/every odd column/.append style={column sep=1pt}},
  },
  colA/.style={base, xmin=23, xmax=39.5, ymin=-12, ymax=3,
    xtick={23,28,33,38}, ytick={-12,-7,-2,3}, width=151.8pt,
    legend style={xshift=-3pt}},
  colB/.style={base, xmin=34, xmax=45, ymin=-26, ymax=4,
    xtick={34,39,44}, ytick={-26,-21,-16,-11,-6,-1,4}, width=157.3pt,
    legend style={xshift=-4pt}},
  colC/.style={base, xmin=27, xmax=45.3, ymin=-15, ymax=5,
    xtick={27,32,37,42}, ytick={-15,-10,-5,0,5}, width=160.7pt,
    legend style={xshift=-6pt}},
  rowA/.style={height=144pt, legend style={yshift=8pt}},
  rowB/.style={height=138pt, legend style={yshift=13pt}},
  rowC/.style={height=141pt, legend style={yshift=10pt}},
  rowD/.style={height=144pt, legend style={yshift=9pt}},
  act/.style={only marks, color=bluec, mark=*, mark size=1.1pt,
    mark options={draw=bluec, fill=bluec, line width=0pt},
    legend image code/.code={\fill[bluec] (0pt,0pt) circle (2.3pt);}},
  modm/.style={only marks, color=orangec, mark=*, mark size=1.1pt,
    mark options={draw=orangec, fill=orangec, line width=0pt},
    legend image code/.code={\fill[orangec] (0pt,0pt) circle (2.3pt);}},
  modl/.style={color=orangec, draw=orangec, line width=1.6pt, no marks,
    legend image code/.code={\fill[orangec] (0pt,0pt) circle (2.3pt);}},
}
\tikzset{rmse/.style={anchor=west, font=\legfont, inner sep=0pt}}

\begin{document}
\begin{tikzpicture}[x=1pt,y=1pt]
\useasboundingbox (0,0) rectangle (586,757);

% panel frames
\draw[gray!55, line width=1.1pt] (35,735) rectangle (581,65);
\draw[gray!55, line width=1.1pt] (217,735) -- (217,65) (398,735) -- (398,65)
  (35,567) -- (581,567) (35,402) -- (581,402) (35,233) -- (581,233);

% column titles
\node[font=\fontsize{9.4}{10}\selectfont\bfseries] at (126,745) {Linear Motion};
\node[font=\fontsize{9.4}{10}\selectfont\bfseries] at (307.5,745) {Hysteresis Motion};
\node[font=\fontsize{9.4}{10}\selectfont\bfseries] at (489.5,745) {Banana-Shaped Motion};

% ===== Row 1 =====
\begin{axis}[colA, rowA, at={(53pt,574pt)}]
\addplot[act] table {\actA}; \addlegendentry{Actual Motion}
\addplot[modl] coordinates {(23.8,2.15) (38.8,-11.35)}; \addlegendentry{Simple Linear Model}
\node[rmse] at (axis description cs:0.05,0.065) {RMSE = 0.40};
\end{axis}
\begin{axis}[colB, rowA, at={(234pt,574pt)}]
\addplot[act] table {\actB}; \addlegendentry{Actual Motion}
\addplot[modl] coordinates {(35.1,2.9) (44.5,-20.7)}; \addlegendentry{Simple Linear Model}
\node[rmse] at (axis description cs:0.05,0.065) {RMSE = 3.31};
\end{axis}
\begin{axis}[colC, rowA, at={(415pt,574pt)}]
\addplot[act] table {\actC}; \addlegendentry{Actual Motion}
\addplot[modl] coordinates {(27.9,3.2) (45.0,-11.8)}; \addlegendentry{Simple Linear Model}
\node[rmse] at (axis description cs:0.05,0.065) {RMSE = 0.68};
\end{axis}

% ===== Row 2 =====
\begin{axis}[colA, rowB, at={(53pt,407pt)}]
\addplot[act] table {\actA}; \addlegendentry{Actual Motion}
\addplot[modm] table {\modAaug}; \addlegendentry{Augmented Linear Model}
\node[rmse] at (axis description cs:0.05,0.065) {RMSE = 0.40};
\end{axis}
\begin{axis}[colB, rowB, at={(234pt,407pt)}]
\addplot[act] table {\actB}; \addlegendentry{Actual Motion}
\addplot[modm] table {\modBlin}; \addlegendentry{Augmented Linear Model}
\node[rmse] at (axis description cs:0.05,0.065) {RMSE = 1.57};
\end{axis}
\begin{axis}[colC, rowB, at={(415pt,407pt)}]
\addplot[act] table {\actC}; \addlegendentry{Actual Motion}
\addplot[modm] table {\modClin}; \addlegendentry{Augmented Linear Model}
\node[rmse] at (axis description cs:0.05,0.065) {RMSE = 0.63};
\end{axis}

% ===== Row 3 =====
\begin{axis}[colA, rowC, at={(53pt,239pt)}]
\addplot[act] table {\actA}; \addlegendentry{Actual Motion}
\addplot[modm] table {\modAaug}; \addlegendentry{Augmented Quadratic Model}
\node[rmse] at (axis description cs:0.05,0.065) {RMSE = 0.39};
\end{axis}
\begin{axis}[colB, rowC, at={(234pt,239pt)}]
\addplot[act] table {\actB}; \addlegendentry{Actual Motion}
\addplot[modm] table {\modBquad}; \addlegendentry{Augmented Quadratic Model}
\node[rmse] at (axis description cs:0.05,0.065) {RMSE = 1.25};
\end{axis}
\begin{axis}[colC, rowC, at={(415pt,239pt)}]
\addplot[act] table {\actC}; \addlegendentry{Actual Motion}
\addplot[modm] table {\modCcore}; \addlegendentry{Augmented Quadratic Model}
\addplot[modm, forget plot] table {\modClowQ};
\node[rmse] at (axis description cs:0.05,0.065) {RMSE = 0.43};
\end{axis}

% ===== Row 4 =====
\begin{axis}[colA, rowD, at={(53pt,71pt)}]
\addplot[act] table {\actA}; \addlegendentry{Actual Motion}
\addplot[modm] table {\modAext}; \addlegendentry{Extended Quadratic Model}
\node[rmse] at (axis description cs:0.05,0.065) {RMSE = 0.48};
\end{axis}
\begin{axis}[colB, rowD, at={(234pt,71pt)}]
\addplot[act] table {\actB}; \addlegendentry{Actual Motion}
\addplot[modm] table {\modBext}; \addlegendentry{Extended Quadratic Model}
\node[rmse] at (axis description cs:0.05,0.065) {RMSE = 1.50};
\end{axis}
\begin{axis}[colC, rowD, at={(415pt,71pt)}]
\addplot[act] table {\actC}; \addlegendentry{Actual Motion}
\addplot[modm] table {\modCcore}; \addlegendentry{Extended Quadratic Model}
\addplot[modm, forget plot] table {\modClowE};
\node[rmse] at (axis description cs:0.05,0.065) {RMSE = 0.50};
\end{axis}

% big axis arrows and labels
\draw[line width=1.1pt] (19,25) -- (19,355);
\draw[line width=1.1pt, -{Stealth[length=7pt,width=4.5pt]}] (19,536) -- (19,741);
\node[rotate=90, font=\fontsize{19.5}{20}\selectfont\bfseries] at (19,453) {Internal CC (mm)};
\draw[line width=1.1pt] (5,36) -- (218,36);
\draw[line width=1.1pt, -{Stealth[length=7pt,width=4.5pt]}] (378,36) -- (582,36);
\node[font=\fontsize{16}{17}\selectfont\bfseries] at (298,36) {External AP (mm)};

% caption
\node[font=\fontsize{13.4}{15}\selectfont] at (307,11) {\textbf{Fig 2.} Examples of ECM fits to different types of internal/external motion patterns.};
\end{tikzpicture}
\end{document}
